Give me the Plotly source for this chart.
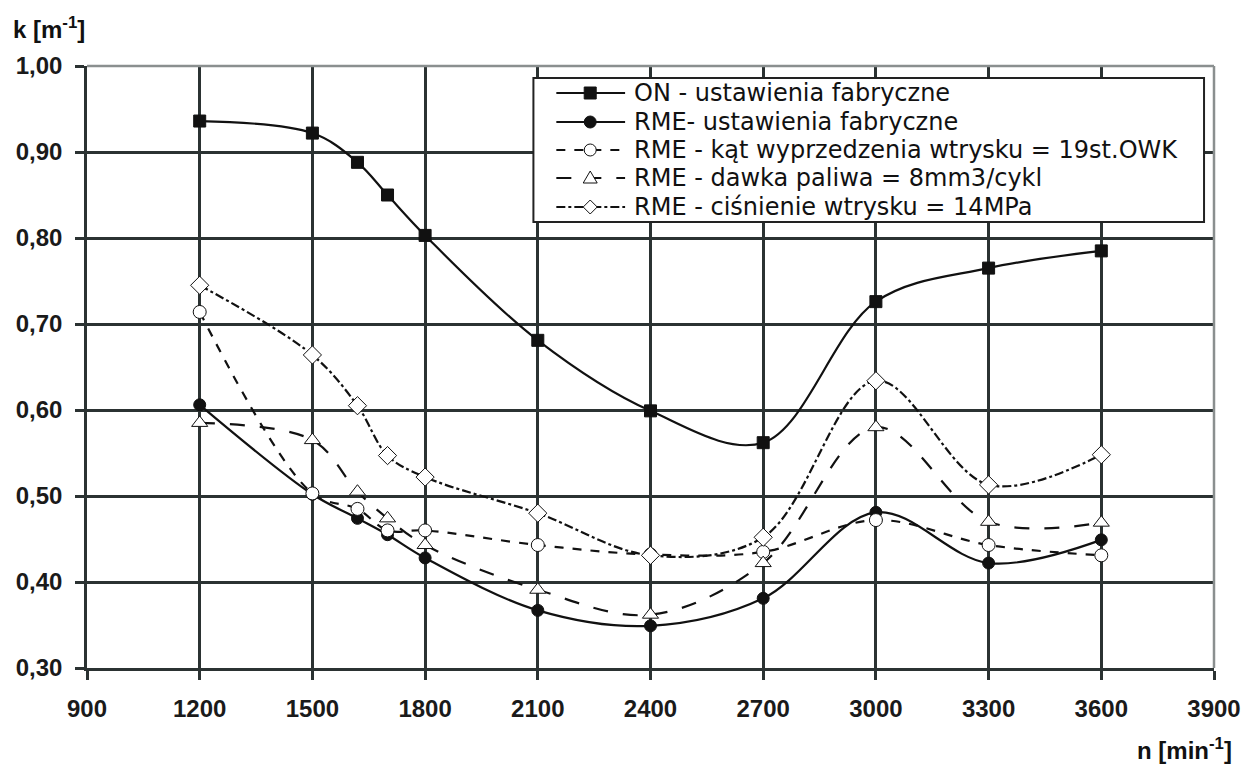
import plotly.graph_objects as go

x_vals = [1200, 1500, 1620, 1700, 1800, 2100, 2400, 2700, 3000, 3300, 3600]

on_factory = [0.936, 0.922, 0.888, 0.850, 0.803, 0.681, 0.599, 0.562, 0.726, 0.765, 0.785]
rme_factory = [0.606, 0.502, 0.474, 0.455, 0.428, 0.367, 0.349, 0.381, 0.481, 0.422, 0.449]
rme_angle = [0.714, 0.503, 0.485, 0.460, 0.460, 0.443, 0.432, 0.435, 0.472, 0.443, 0.431]
rme_dose = [0.585, 0.565, 0.505, 0.474, 0.443, 0.391, 0.362, 0.422, 0.580, 0.470, 0.469]
rme_pressure = [0.745, 0.664, 0.605, 0.547, 0.522, 0.480, 0.431, 0.452, 0.634, 0.513, 0.548]

names = [
    "ON - ustawienia fabryczne",
    "RME- ustawienia fabryczne",
    "RME - kąt wyprzedzenia wtrysku = 19st.OWK",
    "RME - dawka paliwa = 8mm3/cykl",
    "RME - ciśnienie wtrysku = 14MPa",
]

x_ticks = [900, 1200, 1500, 1800, 2100, 2400, 2700, 3000, 3300, 3600, 3900]
y_ticks = [0.30, 0.40, 0.50, 0.60, 0.70, 0.80, 0.90, 1.00]

series = [on_factory, rme_factory, rme_angle, rme_dose, rme_pressure]
styles = [
    dict(dash="solid", symbol="square", fill="#111111", size=12),
    dict(dash="solid", symbol="circle", fill="#111111", size=12),
    dict(dash="dash", symbol="circle", fill="white", size=13),
    dict(dash="longdash", symbol="triangle-up", fill="white", size=14),
    dict(dash="dashdot", symbol="diamond", fill="white", size=14),
]

W, H = 1253, 767
ML, MR, MT, MB = 87, 35, 66, 99
PW, PH = W - ML - MR, H - MT - MB

def px_x(p):
    return (p - ML) / PW

def px_y(p):
    return (H - MB - p) / PH

fig = go.Figure()
for name, ys, st in zip(names, series, styles):
    fig.add_trace(go.Scatter(
        x=x_vals, y=ys, name=name, mode="lines+markers", showlegend=False,
        line=dict(color="#111111", width=2.2, dash=st["dash"], shape="spline", smoothing=1.0),
        marker=dict(symbol=st["symbol"], size=st["size"], color=st["fill"],
                    line=dict(color="#111111", width=1)),
    ))

# ---- manual legend (box, samples, labels) ----
shapes = [
    dict(type="rect", xref="paper", yref="paper",
         x0=px_x(535), x1=px_x(1208), y0=px_y(222), y1=px_y(78),
         fillcolor="white", line=dict(color="#222222", width=2), layer="above"),
]
annotations = []
row_y = [93, 122, 150, 178, 207]
marker_paths = {
    "triangle-up": "M -7,-5 L 7,-5 L 0,7 Z",
    "diamond": "M 0,7 L 7,0 L 0,-7 L -7,0 Z",
}
for name, st, ry in zip(names, styles, row_y):
    yy = px_y(ry)
    shapes.append(dict(type="line", xref="paper", yref="paper",
                       x0=px_x(558), x1=px_x(627), y0=yy, y1=yy,
                       line=dict(color="#111111", width=2, dash=st["dash"]), layer="above"))
    mx = px_x(592)
    common = dict(xref="paper", yref="paper", xsizemode="pixel", ysizemode="pixel",
                  xanchor=mx, yanchor=yy, fillcolor=st["fill"],
                  line=dict(color="#111111", width=1), layer="above")
    if st["symbol"] == "square":
        shapes.append(dict(type="rect", x0=-6, x1=6, y0=-6, y1=6, **common))
    elif st["symbol"] == "circle":
        shapes.append(dict(type="circle", x0=-6, x1=6, y0=-6, y1=6, **common))
    else:
        shapes.append(dict(type="path", path=marker_paths[st["symbol"]], **common))
    annotations.append(dict(text=name, xref="paper", yref="paper", x=px_x(634), y=yy,
                            xanchor="left", yanchor="middle", showarrow=False,
                            font=dict(size=24, family="DejaVu Sans, sans-serif", color="#111111")))

# plot frame top/right in lighter grey
shapes += [
    dict(type="line", xref="paper", yref="paper", x0=0, x1=1, y0=1, y1=1,
         line=dict(color="#8a8f8f", width=2.5), layer="above"),
    dict(type="line", xref="paper", yref="paper", x0=1, x1=1, y0=0, y1=1,
         line=dict(color="#8a8f8f", width=2.5), layer="above"),
]

annotations += [
    dict(text="<b>k [m<sup>-1</sup>]</b>", xref="paper", yref="paper",
         x=px_x(11), y=px_y(28), xanchor="left", yanchor="middle", showarrow=False,
         font=dict(size=24)),
    dict(text="<b>n [min<sup>-1</sup>]</b>", xref="paper", yref="paper",
         x=px_x(1238), y=px_y(749), xanchor="right", yanchor="middle", showarrow=False,
         font=dict(size=24)),
]

grid = "#2b3232"
tickfont = dict(size=24, family="Liberation Sans, Arial, sans-serif", color="#1a1a1a")
fig.update_layout(
    width=W, height=H,
    margin=dict(l=ML, r=MR, t=MT, b=MB),
    paper_bgcolor="white", plot_bgcolor="white",
    font=dict(family="Liberation Sans, Arial, sans-serif", color="#111111", size=18),
    showlegend=False,
    xaxis=dict(
        range=[900, 3900], tickvals=x_ticks, ticktext=["<b>%d</b>" % v for v in x_ticks],
        showgrid=True, gridcolor=grid, gridwidth=2.5,
        zeroline=False, showline=True, linecolor=grid, linewidth=2.5, mirror=False,
        ticks="outside", ticklen=9, tickcolor=grid, tickwidth=2.5,
        ticklabelstandoff=8, tickfont=tickfont,
    ),
    yaxis=dict(
        range=[0.30, 1.00], tickvals=y_ticks,
        ticktext=["<b>" + ("%.2f" % v).replace(".", ",") + "</b>" for v in y_ticks],
        showgrid=True, gridcolor=grid, gridwidth=2.5,
        zeroline=False, showline=True, linecolor=grid, linewidth=2.5, mirror=False,
        ticks="outside", ticklen=9, tickcolor=grid, tickwidth=2.5,
        ticklabelstandoff=8, tickfont=tickfont,
    ),
    shapes=shapes,
    annotations=annotations,
)

fig.write_html("out.html", config={"displayModeBar": False},
               post_script="document.body.style.margin='0';document.body.style.padding='0';")
